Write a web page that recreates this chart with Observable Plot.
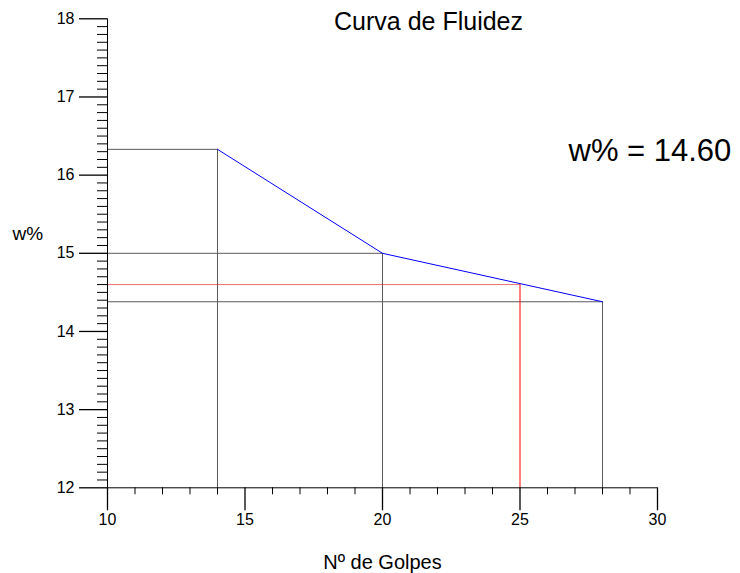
<!DOCTYPE html>
<html>
<head>
<meta charset="utf-8">
<script src="https://cdn.jsdelivr.net/npm/d3@7"></script>
<script src="https://cdn.jsdelivr.net/npm/@observablehq/plot@0.6"></script>
<style>
  html, body { margin: 0; padding: 0; background: #fff; }
  #chart svg { display: block; }
</style>
</head>
<body>
<div id="chart"></div>
<script>
// Ensayo de límite líquido: número de golpes vs. contenido de humedad
const golpes = [14, 20, 28];
const humedad = [16.33, 15.00, 14.38];

// Lectura a 25 golpes
const golpesRef = [25];
const humedadRef = [14.60];

// Ejes
const xMajor = [10, 15, 20, 25, 30];
const yMajor = [12, 13, 14, 15, 16, 17, 18];
const xDomain = [10, 30];
const yDomain = [12, 18];

const titulo = "Curva de Fluidez";
const etiquetaX = "Nº de Golpes";
const etiquetaY = "w%";

const puntos = golpes.map((g, i) => ({g, w: humedad[i]}));
const ref = golpesRef.map((g, i) => ({g, w: humedadRef[i]}));

const xMinor = d3.range(xDomain[0], xDomain[1] + 1).filter(v => !xMajor.includes(v));
const yMinor = d3.range(yDomain[0] * 10, yDomain[1] * 10 + 1)
  .filter(v => v % 10 !== 0).map(v => v / 10);

const font = "'Liberation Sans', Arial, sans-serif";
const guia = "#5a5a5a";

const chart = Plot.plot({
  width: 740,
  height: 573,
  marginLeft: 107,
  marginRight: 83,
  marginTop: 18.3,
  marginBottom: 85.7,
  style: {fontFamily: font, background: "#fff", color: "#000"},
  x: {domain: xDomain},
  y: {domain: yDomain},
  marks: [
    // líneas guía desde los ejes hasta cada punto
    Plot.ruleX(puntos, {x: "g", y1: yDomain[0], y2: "w", stroke: guia}),
    Plot.ruleY(puntos, {y: "w", x1: xDomain[0], x2: "g", stroke: guia}),
    Plot.ruleX(ref, {x: "g", y1: yDomain[0], y2: "w", stroke: "#ff0000"}),
    Plot.ruleY(ref, {y: "w", x1: xDomain[0], x2: "g", stroke: "#e03030", strokeWidth: 0.7}),
    // curva de fluidez
    Plot.line(puntos, {x: "g", y: "w", stroke: "#0000ff", strokeWidth: 1}),
    // ejes
    Plot.axisY({ticks: yMinor, tickSize: 10, text: null, label: null, stroke: "#000"}),
    Plot.axisY({ticks: yMajor, tickSize: 28, tickPadding: 5, fontSize: 16, label: null, stroke: "#000", strokeWidth: 1.3, tickFormat: d3.format("d")}),
    Plot.axisX({ticks: xMinor, tickSize: 7, text: null, label: null, stroke: "#000"}),
    Plot.axisX({ticks: xMajor, tickSize: 23, tickPadding: 3, fontSize: 16, label: null, stroke: "#000", strokeWidth: 1.3, tickFormat: d3.format("d")}),
    Plot.ruleX([xDomain[0]], {y1: yDomain[0], y2: yDomain[1], stroke: "#000"}),
    Plot.ruleY([yDomain[0]], {x1: xDomain[0], x2: xDomain[1], stroke: "#000"}),
    // textos
    Plot.text([titulo], {frameAnchor: "top", text: d => d, dx: 46, dy: 11, lineAnchor: "bottom", fontSize: 25}),
    Plot.text(humedadRef, {frameAnchor: "top-right", text: d => `w% = ${d.toFixed(2)}`, textAnchor: "start", dx: -89, dy: 142, lineAnchor: "bottom", fontSize: 31}),
    Plot.text([etiquetaY], {frameAnchor: "left", text: d => d, textAnchor: "start", dx: -95, dy: -13, lineAnchor: "bottom", fontSize: 19}),
    Plot.text([etiquetaX], {frameAnchor: "bottom", text: d => d, dy: 80.7, lineAnchor: "bottom", fontSize: 20})
  ]
});

document.getElementById("chart").appendChild(chart);
</script>
</body>
</html>
